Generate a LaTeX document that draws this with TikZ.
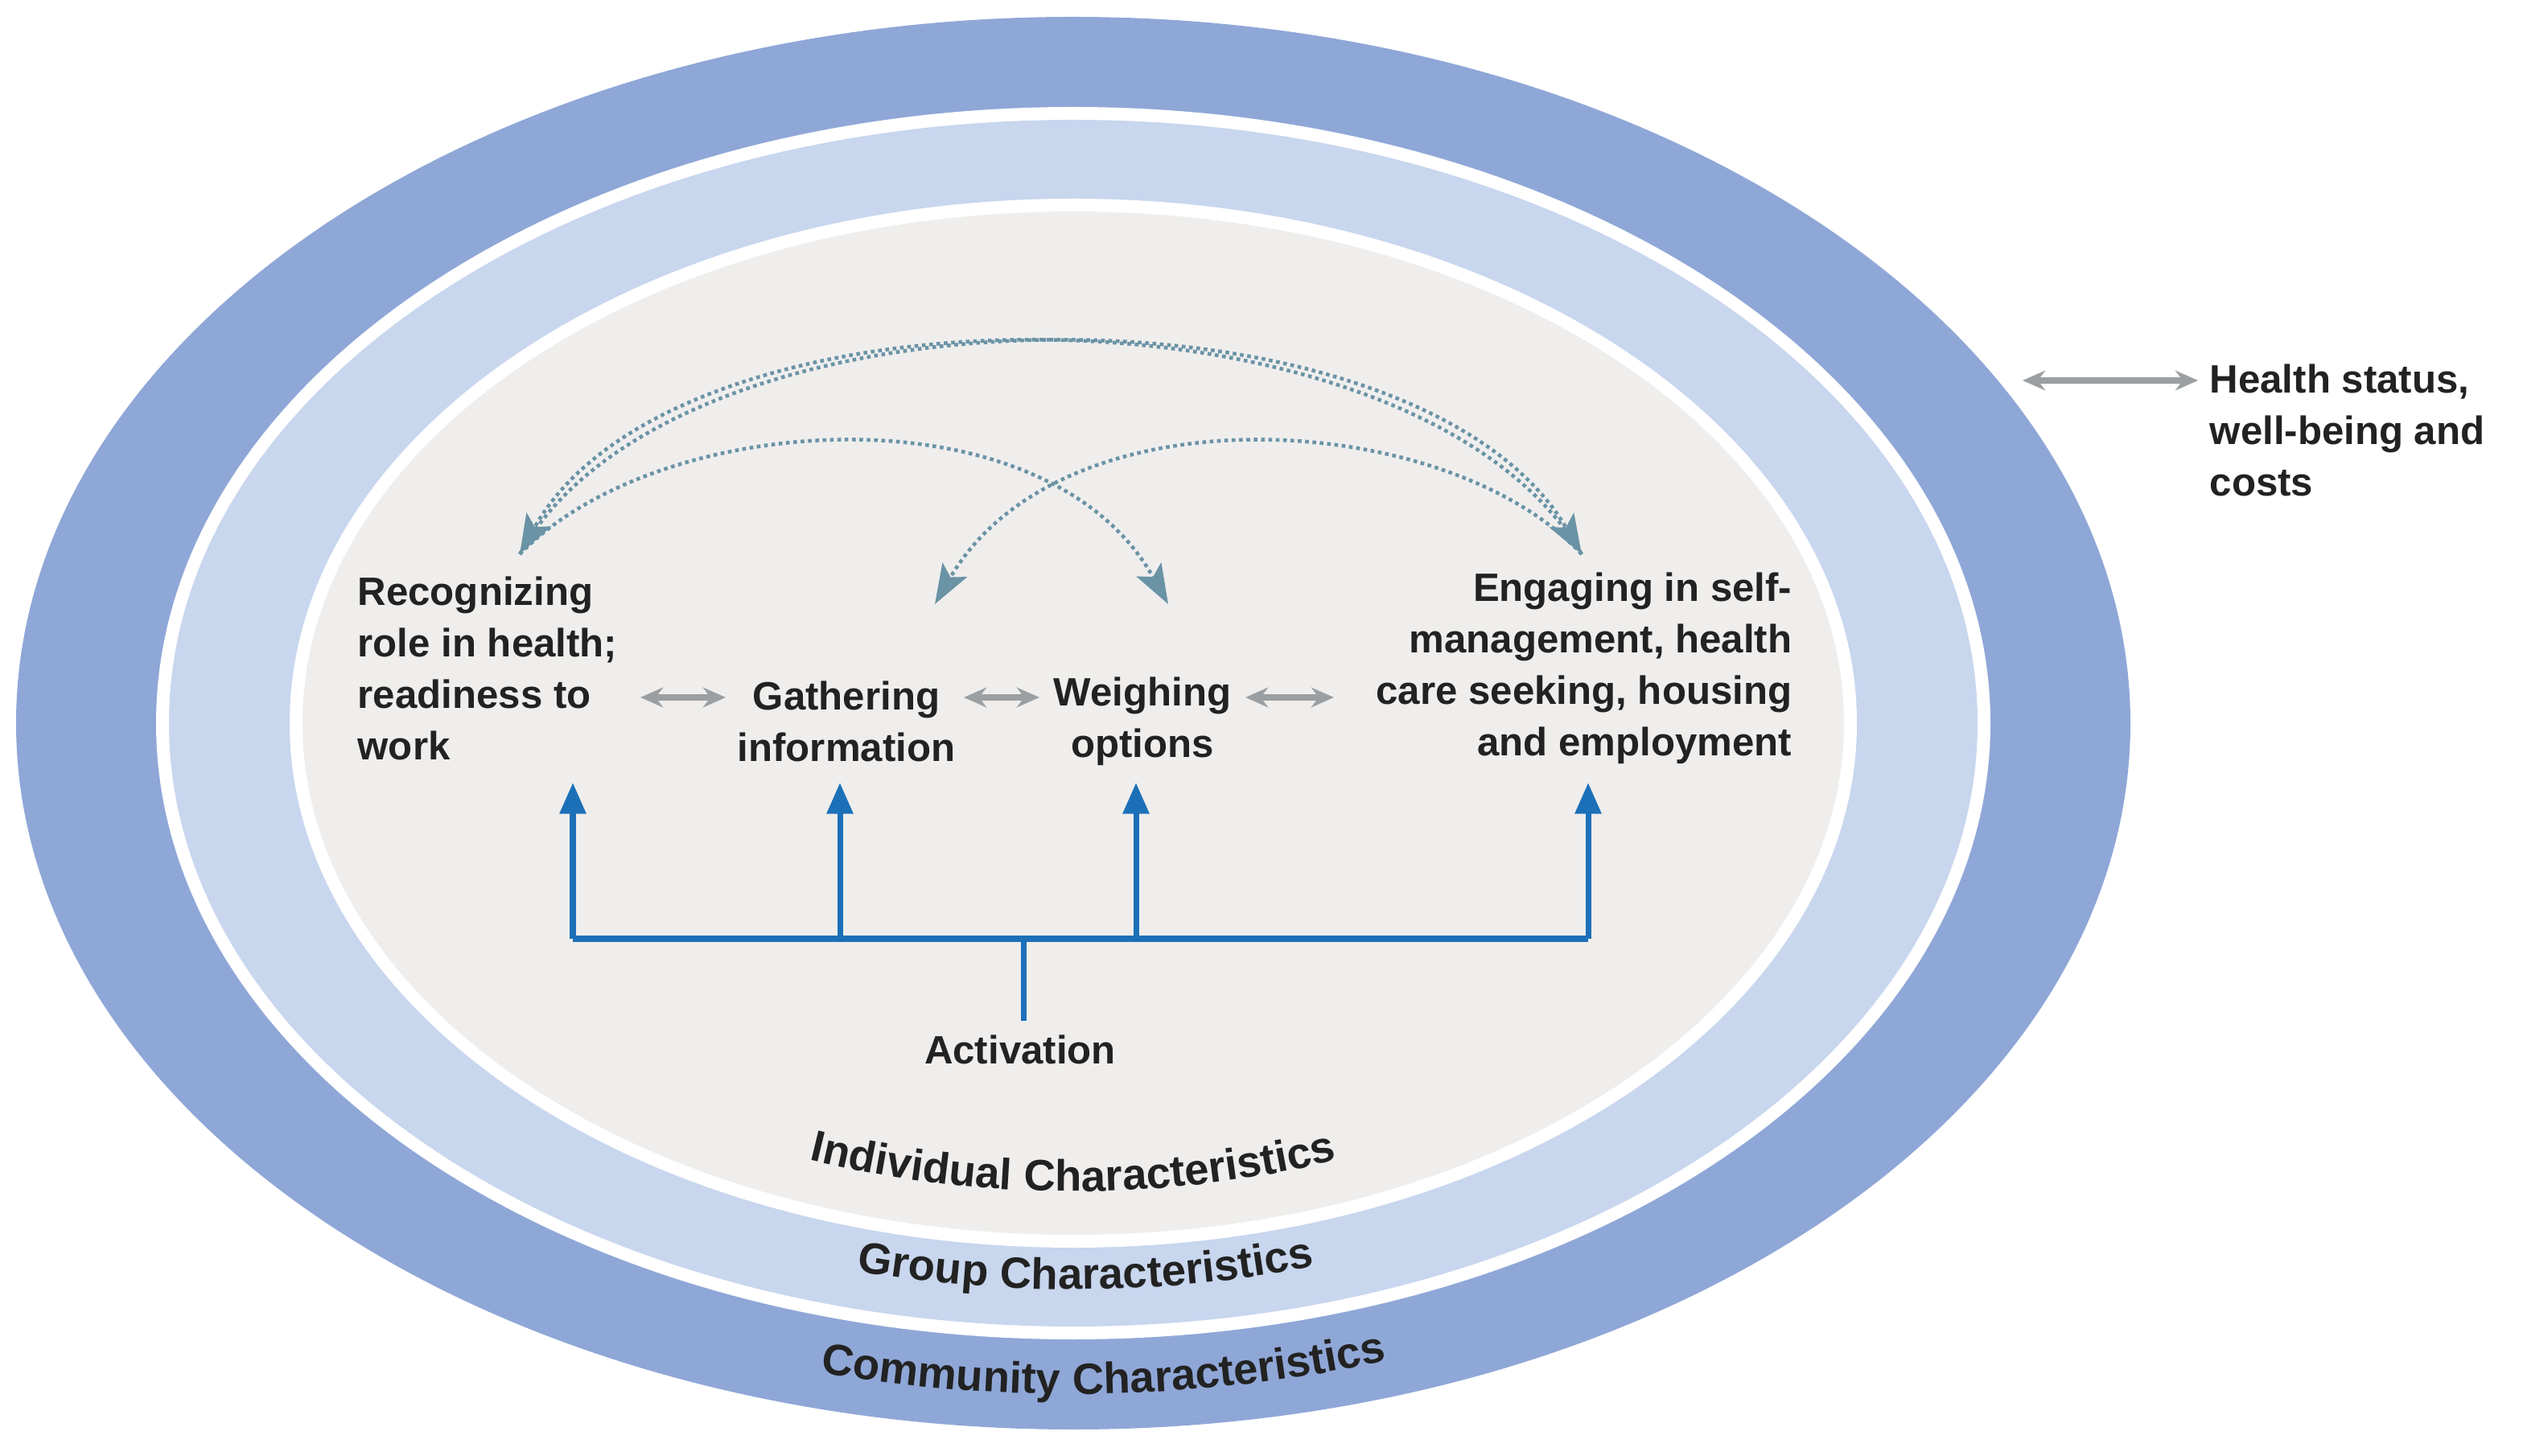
\documentclass[tikz,border=0pt]{standalone}
\usepackage{fontspec}
\setmainfont{Liberation Sans}
\usetikzlibrary{arrows.meta,decorations.text}
\definecolor{outerblue}{HTML}{8FA7D7}
\definecolor{lightblue}{HTML}{C8D6EE}
\definecolor{inner}{HTML}{EFEEED}
\definecolor{dotc}{HTML}{6A93A5}
\definecolor{actblue}{HTML}{1C70B8}
\definecolor{greyarr}{HTML}{9B9FA2}
\definecolor{txt}{HTML}{222222}
\begin{document}
\begin{tikzpicture}[x=0.02cm,y=0.02cm,
  lbl/.style={font=\fontsize{14}{18.2}\selectfont\bfseries, text=txt, inner sep=0pt, align=#1},
  garr/.style={{Stealth[length=8pt,width=7pt]}-{Stealth[length=8pt,width=7pt]}, greyarr, line width=2pt},
  dotarr/.style={dotc, line width=1.3pt, dash pattern=on 1.3pt off 1.3pt, -{Stealth[length=14pt,width=10pt,inset=3pt]}},
  barr/.style={actblue, line width=2pt, -{Triangle[length=11pt,width=9pt]}},
  ring/.style={decorate, decoration={text along path, text align=center,
     text={|\fontsize{15.5}{18}\selectfont\bfseries\color{txt}|#1}}}]
\useasboundingbox (0,0) rectangle (1568,904.5);
\coordinate (C) at (667,455);
\fill[outerblue] (C) ellipse [x radius=657, y radius=439];
\fill[white] (C) ellipse [x radius=570, y radius=383];
\fill[lightblue] (C) ellipse [x radius=562, y radius=375];
\fill[white] (C) ellipse [x radius=487, y radius=326];
\fill[inner] (C) ellipse [x radius=479, y radius=318];

\path[ring={Community Characteristics}] ([shift={(232:625 and 417)}]C) arc[start angle=232,end angle=312,x radius=625,y radius=417];
\path[ring={Group Characteristics}] ([shift={(226:530 and 352)}]C) arc[start angle=226,end angle=316,x radius=530,y radius=352];
\path[ring={Individual Characteristics}] ([shift={(222:455 and 291)}]C) arc[start angle=222,end angle=318,x radius=455,y radius=291];

\node[lbl=left, anchor=west] (rec) at (222,489) {Recognizing\\role in health;\\readiness to\\work};
\node[lbl=center] (gat) at (526,456) {Gathering\\information};
\node[lbl=center] (wei) at (710,456) {Weighing\\options};
\node[lbl=right, anchor=east] (eng) at (1114,489) {Engaging in self-\\management, health\\care seeking, housing\\and employment};
\node[lbl=left, anchor=west] (hs) at (1373,637) {Health status,\\well-being and\\costs};
\node[lbl=center] (act) at (634,252) {Activation};

% grey double arrows
\coordinate (g1a) at (398,471); \coordinate (g1b) at (451,471);
\coordinate (g2a) at (599,471); \coordinate (g2b) at (646,471);
\coordinate (g3a) at (774,471); \coordinate (g3b) at (829,471);
\coordinate (h1) at (1257,668); \coordinate (h2) at (1366,668);
\draw[garr] (g1a) -- (g1b);
\draw[garr] (g2a) -- (g2b);
\draw[garr] (g3a) -- (g3b);
\draw[garr] (h1) -- (h2);

% activation lines
\coordinate (a0) at (636,270);
\coordinate (hb) at (636,321);
\coordinate (b1) at (356,321); \coordinate (t1) at (356,418);
\coordinate (b2) at (522,321); \coordinate (t2) at (522,418);
\coordinate (b3) at (706,321); \coordinate (t3) at (706,418);
\coordinate (b4) at (987,321); \coordinate (t4) at (987,418);
\draw[actblue, line width=2pt] (a0) -- (hb);
\draw[actblue, line width=2pt] (b1) -- (b4);
\draw[barr] (b1) -- (t1);
\draw[barr] (b2) -- (t2);
\draw[barr] (b3) -- (t3);
\draw[barr] (b4) -- (t4);

% dotted arcs
\coordinate (dr) at (323,560);
\coordinate (de) at (983,560);
\coordinate (dw) at (726,529);
\coordinate (dg) at (581,529);
\draw[dotarr] (dr) .. controls (420,735) and (880,735) .. (de);
\draw[dotarr] (de) .. controls (880,735) and (420,735) .. (dr);
\draw[dotarr] (dr) .. controls (410,650) and (650,665) .. (dw);
\draw[dotarr] (de) .. controls (900,650) and (660,665) .. (dg);
\end{tikzpicture}
\end{document}
